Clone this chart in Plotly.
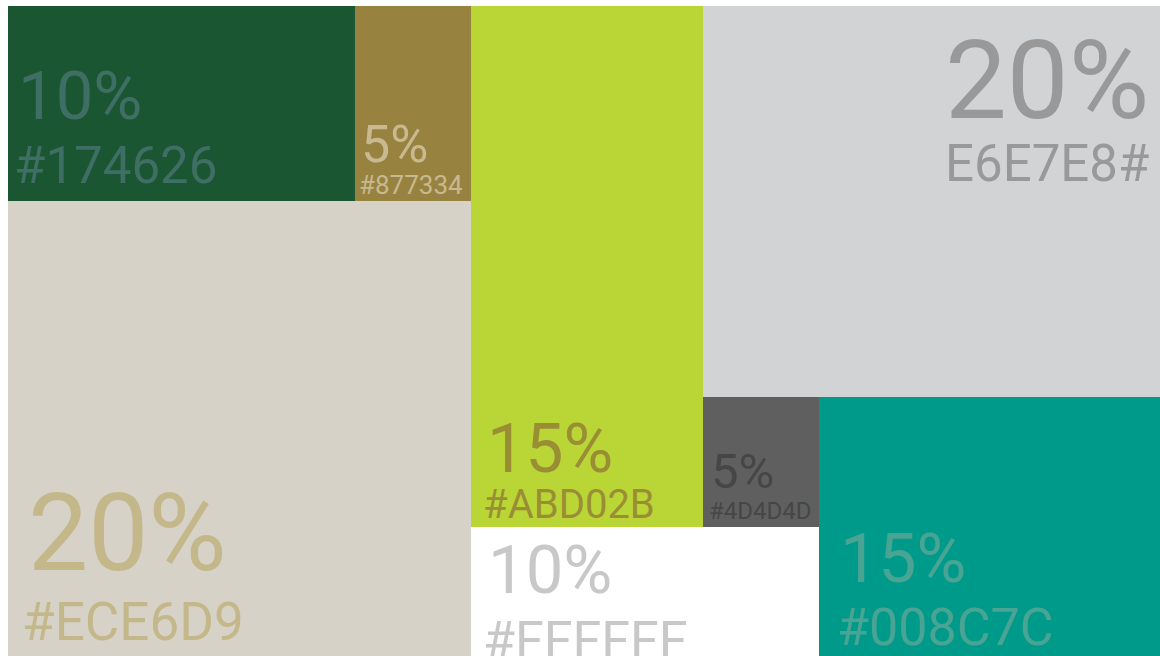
import plotly.graph_objects as go

# ---- data -------------------------------------------------------------
codes = ["#174626", "#877334", "#ECE6D9", "#ABD02B", "#FFFFFF", "E6E7E8#", "#4D4D4D", "#008C7C"]
shares = [10, 5, 20, 15, 10, 20, 5, 15]
# mosaic cell boundaries (grid units, origin at top-left)
cell_x0 = [0, 347, 0, 463, 463, 695, 695, 811]
cell_x1 = [347, 463, 463, 695, 811, 1152, 811, 1152]
cell_y0 = [0, 0, 195, 0, 521, 0, 391, 391]
cell_y1 = [195, 195, 650, 521, 650, 391, 521, 650]

# ---- styles -----------------------------------------------------------
fill_colors = ["#1B5633", "#97833F", "#D6D2C7", "#BAD636", "#FFFFFF", "#D2D3D5", "#5F5F5F", "#009A8B"]
text_colors = ["#3E6E64", "#C8B991", "#C4B88B", "#9A8E35", "#C8C8C8", "#999999", "#464646", "#4AA494"]
FONT = "Roboto, 'Open Sans', sans-serif"

# label placement per cell: side, ink edge x, pct baseline, pct size, code edge x, code baseline, code size
label_layout = [
    ("left", 13, 113, 67, 8, 177, 51),
    ("left", 355, 156, 52, 352, 188, 26),
    ("left", 24, 564, 107, 16, 634, 53),
    ("left", 482, 466, 68, 477, 512, 40),
    ("left", 483, 587, 67, 477, 652, 52),
    ("right", 1137, 112, 110, 1139, 175, 51),
    ("left", 705, 482, 49, 702, 513, 24),
    ("left", 835, 576, 68, 831, 639, 52),
]

widths = [b - a for a, b in zip(cell_x0, cell_x1)]
centers = [(a + b) / 2 for a, b in zip(cell_x0, cell_x1)]
heights = [b - a for a, b in zip(cell_y0, cell_y1)]

fig = go.Figure(
    go.Bar(
        x=centers,
        y=heights,
        base=cell_y0,
        width=widths,
        marker=dict(color=fill_colors, line=dict(width=0)),
        hoverinfo="skip",
        showlegend=False,
    )
)

ASC, DESC = 0.928, 0.244
annotations = []
for i, (side, px, pb, ps, cx, cb, cs) in enumerate(label_layout):
    for txt, ex, base, size in ((f"{shares[i]}%", px, pb, ps), (codes[i], cx, cb, cs)):
        if side == "left":
            ax = ex - 0.04 * size
        else:
            ax = ex + 0.04 * size
        annotations.append(
            dict(
                x=ax,
                y=base - (ASC - DESC) / 2 * size,
                xref="x",
                yref="y",
                text=txt,
                showarrow=False,
                xanchor=side,
                yanchor="middle",
                borderpad=0,
                borderwidth=0,
                font=dict(family=FONT, size=size, color=text_colors[i]),
            )
        )

fig.update_layout(
    width=1160,
    height=656,
    margin=dict(l=8, r=0, t=6, b=0),
    paper_bgcolor="white",
    plot_bgcolor="white",
    barmode="overlay",
    xaxis=dict(range=[0, 1152], visible=False, showgrid=False, zeroline=False, fixedrange=True),
    yaxis=dict(range=[650, 0], visible=False, showgrid=False, zeroline=False, fixedrange=True),
    annotations=annotations,
)

fig.write_html(
    "out.html",
    config={"displayModeBar": False},
    post_script="document.body.style.margin='0';document.body.style.overflow='hidden';",
)
